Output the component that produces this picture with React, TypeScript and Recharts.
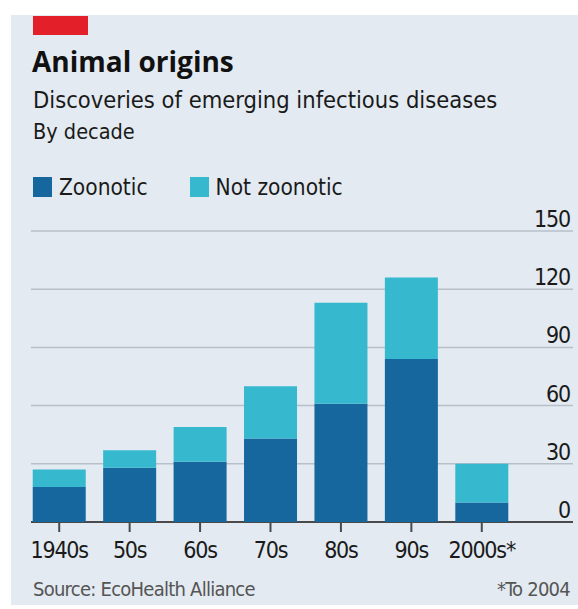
import React from 'react'
import { BarChart, Bar, XAxis, YAxis, CartesianGrid, Legend } from 'recharts'

const decades = ['1940s', '50s', '60s', '70s', '80s', '90s', '2000s*']
const zoonotic = [18, 28, 31, 43, 61, 84, 10]
const notZoonotic = [9, 9, 18, 27, 52, 42, 20]
const yTicks = [0, 30, 60, 90, 120, 150]
const seriesOrder = ['Zoonotic', 'Not zoonotic']

const DARK = '#17679f'
const LIGHT = '#36b8cf'
const BG = '#e3eaf1'
const GRID = '#b7c0c9'
const AXIS = '#4a4a4a'
const COND = '"DejaVu Sans Condensed", "DejaVu Sans", sans-serif'
const BOLD = '"Open Sans", "Noto Sans", sans-serif'

const data = decades.map((d, i) => ({
  decade: d,
  zoonotic: zoonotic[i],
  notZoonotic: notZoonotic[i],
}))

// y labels sit just above the gridline, right-aligned
const YTick = (props: any) => {
  const { x, y, payload } = props
  return (
    <text x={x - 3} y={y - 4} textAnchor="end" fontSize={23} letterSpacing={-1.2} fontFamily={COND} fill="#1a1a1a">
      {payload.value}
    </text>
  )
}

const GridLine = (p: any) => (
  <line
    key={p.key}
    x1={p.x1}
    x2={p.x2}
    y1={p.y1}
    y2={p.y2}
    stroke={p.index === 0 ? AXIS : GRID}
    strokeWidth={p.index === 0 ? 2 : 1.5}
  />
)

const LegendBox = (props: any) => {
  const items = [...(props.payload || [])].sort(
    (a: any, b: any) => seriesOrder.indexOf(a.value) - seriesOrder.indexOf(b.value)
  )
  return (
    <div style={{ display: 'flex', fontFamily: COND, fontSize: 22.5, color: '#1a1a1a', lineHeight: '24px' }}>
      {items.map((e: any, i: number) => (
        <div key={i} style={{ display: 'flex', alignItems: 'center', marginRight: 42 }}>
          <span style={{ width: 19, height: 20, background: e.color, display: 'inline-block', marginRight: 7 }} />
          <span>{e.value}</span>
        </div>
      ))}
    </div>
  )
}

export default function App() {
  return (
    <div style={{ position: 'absolute', left: 0, top: 0, width: 578, height: 609, background: '#fff', overflow: 'hidden' }}>
      <div style={{ position: 'absolute', left: 11, top: 15, right: 0, bottom: 4, background: BG }} />
      <div style={{ position: 'absolute', left: 33, top: 16, width: 55, height: 19, background: '#e3202a' }} />
      <div style={{ position: 'absolute', left: 32, top: 43, fontFamily: BOLD, fontWeight: 700, fontSize: 28, color: '#111', lineHeight: '36px' }}>
        Animal origins
      </div>
      <div style={{ position: 'absolute', left: 33, top: 86, fontFamily: COND, fontSize: 23.5, color: '#1a1a1a', lineHeight: '28px' }}>
        Discoveries of emerging infectious diseases
      </div>
      <div style={{ position: 'absolute', left: 33, top: 119, fontFamily: COND, fontSize: 21.5, color: '#1a1a1a', lineHeight: '26px' }}>
        By decade
      </div>

      <div style={{ position: 'absolute', left: 0, top: 0 }}>
        <BarChart
          width={578}
          height={609}
          data={data}
          margin={{ top: 231, right: 0, bottom: 0, left: 24 }}
          barCategoryGap="12.4%"
        >
          <CartesianGrid vertical={false} horizontal={GridLine} x={31} width={542} />
          <XAxis
            dataKey="decade"
            height={87}
            axisLine={false}
            tickLine={{ stroke: AXIS, strokeWidth: 2 }}
            tickSize={10}
            tickMargin={10}
            padding={{ left: 0, right: 56 }}
            interval={0}
            tick={{ fontSize: 23, fontFamily: COND, fill: '#1a1a1a', letterSpacing: -1.2 }}
          />
          <YAxis
            orientation="right"
            width={5}
            domain={[0, 150]}
            ticks={yTicks}
            axisLine={false}
            tickLine={false}
            tickSize={0}
            tickMargin={0}
            tick={<YTick />}
          />
          <Legend
            layout="horizontal"
            verticalAlign="middle"
            align="center"
            content={<LegendBox />}
            wrapperStyle={{ position: 'absolute', top: 175, left: 33, width: 500, height: 24 }}
          />
          <Bar dataKey="zoonotic" name="Zoonotic" stackId="a" fill={DARK} isAnimationActive={false} />
          <Bar dataKey="notZoonotic" name="Not zoonotic" stackId="a" fill={LIGHT} isAnimationActive={false} />
        </BarChart>
      </div>

      <div style={{ position: 'absolute', left: 33, top: 576, fontFamily: COND, fontSize: 20, letterSpacing: -0.75, color: '#555', lineHeight: '26px' }}>
        Source: EcoHealth Alliance
      </div>
      <div style={{ position: 'absolute', right: 8, top: 576, fontFamily: COND, fontSize: 20, letterSpacing: -0.75, color: '#555', lineHeight: '26px' }}>
        *To 2004
      </div>
    </div>
  )
}
